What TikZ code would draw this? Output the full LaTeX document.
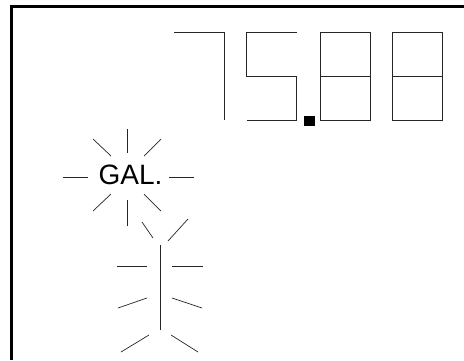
\documentclass[tikz,border=0pt]{standalone}
\usepackage{fontspec}
\setmainfont{Liberation Sans}
\begin{document}
\begin{tikzpicture}[x=1pt,y=-1pt,
  frameline/.style={line width=3pt,draw=black},
  segline/.style={line width=0.7pt,draw=black!85,line cap=butt},
  rayline/.style={line width=0.7pt,draw=black!85},
  dotbox/.style={fill=black,draw=none}]
\useasboundingbox (0,0) rectangle (464,360);
\draw[frameline] (11.5,360) -- (11.5,6.5) -- (464,6.5);
% digit 7
\draw[segline] (174,32) -- (224,32) -- (224,120);
% digit 5
\draw[segline] (296.5,32) -- (246.5,32) -- (246.5,76) -- (296.5,76) -- (296.5,120) -- (246.5,120);
% digit 8
\draw[segline] (320.5,32) rectangle (370.5,120);
\draw[segline] (320.5,76) -- (370.5,76);
% digit 8
\draw[segline] (392.5,32) rectangle (442.5,120);
\draw[segline] (392.5,76) -- (442.5,76);
\fill[dotbox] (304,116) rectangle (314.5,125.5);
% GAL.
\node[font=\fontsize{28}{28}\selectfont,inner sep=0pt,anchor=base] (gal) at (130.5,184) {GAL.};
\draw[rayline] (127,129) -- (127,153);
\draw[rayline] (93,139) -- (111,156);
\draw[rayline] (161,139) -- (144,156);
\draw[rayline] (63,177) -- (88,177);
\draw[rayline] (169,177) -- (194,177);
\draw[rayline] (93,211) -- (111,194);
\draw[rayline] (161,211) -- (144,194);
\draw[rayline] (127,200) -- (127,226);
% bar
\draw[segline] (160,245) -- (160,330);
\draw[rayline] (142,222) -- (153,238);
\draw[rayline] (188,219) -- (168,241);
\draw[rayline] (117,266) -- (147,266);
\draw[rayline] (172,266) -- (203,266);
\draw[rayline] (118,308) -- (147,298);
\draw[rayline] (172,298) -- (202,308);
\draw[rayline] (121,352) -- (149,335);
\draw[rayline] (171,335) -- (198,352);
\end{tikzpicture}
\end{document}
